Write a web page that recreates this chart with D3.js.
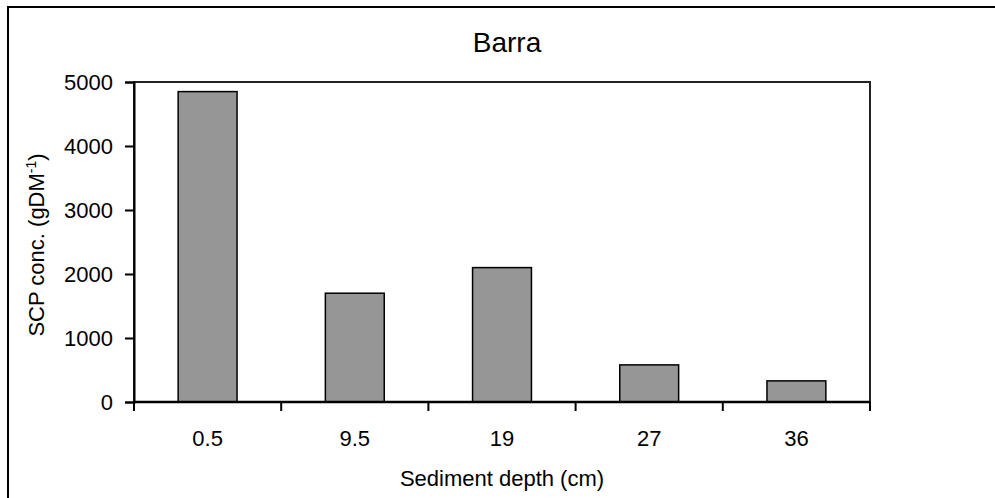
<!DOCTYPE html>
<html>
<head>
<meta charset="utf-8">
<script src="https://cdn.jsdelivr.net/npm/d3@7"></script>
<style>
  html, body { margin: 0; padding: 0; background: #fff; overflow: hidden; }
  svg { display: block; font-family: "Liberation Sans", Arial, sans-serif; }
</style>
</head>
<body>
<svg id="chart" width="995" height="498"></svg>
<script>
// 데이터
const depths = ["0.5", "9.5", "19", "27", "36"];
const scpConc = [4850, 1700, 2100, 580, 330];
const yTicks = [0, 1000, 2000, 3000, 4000, 5000];

const width = 995, height = 498;
const margin = { left: 134, right: 125, top: 82, bottom: 96 };
const plotW = width - margin.left - margin.right;
const plotH = height - margin.top - margin.bottom;

const svg = d3.select("#chart");

// 바깥 테두리 (오른쪽/아래는 화면 밖으로)
svg.append("rect")
    .attr("x", 8).attr("y", 7)
    .attr("width", 1010).attr("height", 510)
    .attr("fill", "none")
    .attr("stroke", "#000")
    .attr("stroke-width", 2);

const x = d3.scaleBand()
    .domain(depths)
    .range([margin.left, margin.left + plotW])
    .paddingInner(0.6)
    .paddingOuter(0.3);

const y = d3.scaleLinear()
    .domain([0, 5000])
    .range([margin.top + plotH, margin.top]);

// 플롯 영역 테두리
svg.append("rect")
    .attr("x", margin.left).attr("y", margin.top)
    .attr("width", plotW).attr("height", plotH)
    .attr("fill", "none")
    .attr("stroke", "#222")
    .attr("stroke-width", 2);

// 막대
svg.append("g")
    .selectAll("rect")
    .data(depths)
    .enter().append("rect")
    .attr("x", d => x(d))
    .attr("y", (d, i) => y(scpConc[i]))
    .attr("width", x.bandwidth())
    .attr("height", (d, i) => y(0) - y(scpConc[i]))
    .attr("fill", "#969696")
    .attr("stroke", "#000")
    .attr("stroke-width", 1.5);

// y축
const yAxis = svg.append("g")
    .attr("transform", `translate(${margin.left},0)`)
    .call(d3.axisLeft(y).tickValues(yTicks).tickSize(9).tickPadding(12).tickFormat(d3.format("d")));
yAxis.select(".domain").attr("stroke", "#000").attr("stroke-width", 2);
yAxis.selectAll(".tick line").attr("stroke", "#000").attr("stroke-width", 2);
yAxis.selectAll(".tick text")
    .attr("fill", "#000")
    .style("font-size", "22px")
    .style("font-family", "Liberation Sans, Arial, sans-serif");

// x축: 눈금은 카테고리 경계에
const step = x.step();
const xAxisG = svg.append("g")
    .attr("transform", `translate(0,${y(0)})`);
xAxisG.append("line")
    .attr("x1", margin.left).attr("x2", margin.left + plotW)
    .attr("stroke", "#000").attr("stroke-width", 2.5);
xAxisG.selectAll(".xtick")
    .data(d3.range(depths.length + 1))
    .enter().append("line")
    .attr("x1", i => margin.left + i * step)
    .attr("x2", i => margin.left + i * step)
    .attr("y1", 0).attr("y2", 9)
    .attr("stroke", "#000").attr("stroke-width", 2);
xAxisG.selectAll(".xlabel")
    .data(depths)
    .enter().append("text")
    .attr("x", d => x(d) + x.bandwidth() / 2)
    .attr("y", 44)
    .attr("text-anchor", "middle")
    .style("font-size", "22px")
    .text(d => d);

// 제목
svg.append("text")
    .attr("x", 507).attr("y", 52)
    .attr("text-anchor", "middle")
    .style("font-size", "28px")
    .text("Barra");

// x축 제목
svg.append("text")
    .attr("x", margin.left + plotW / 2).attr("y", 486)
    .attr("text-anchor", "middle")
    .style("font-size", "22px")
    .text("Sediment depth (cm)");

// y축 제목 (위첨자 포함)
const yLabel = svg.append("text")
    .attr("transform", "translate(44,245) rotate(-90)")
    .attr("text-anchor", "middle")
    .style("font-size", "22px");
yLabel.append("tspan").text("SCP conc. (gDM");
yLabel.append("tspan").attr("dy", -8).style("font-size", "14px").text("-1");
yLabel.append("tspan").attr("dy", 8).text(")");
</script>
</body>
</html>
